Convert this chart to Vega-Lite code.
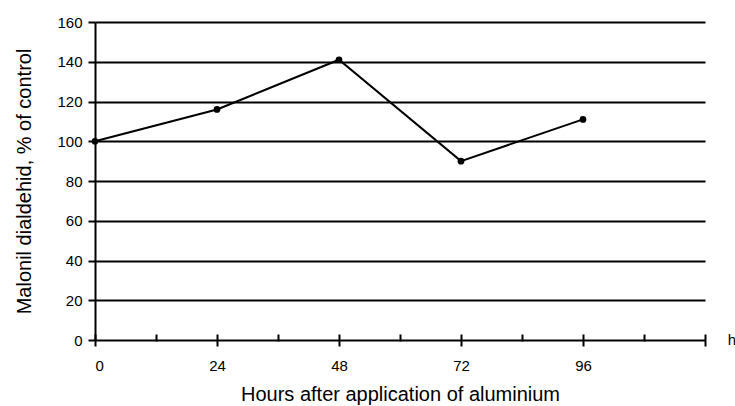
{
  "$schema": "https://vega.github.io/schema/vega-lite/v6.json",
  "autosize": {"type": "none"},
  "padding": {"left": 95, "top": 22, "right": 30, "bottom": 66},
  "width": 610,
  "height": 318,
  "background": "white",
  "config": {
    "view": {"stroke": null},
    "font": "Liberation Sans",
    "axis": {"labelColor": "black", "titleColor": "black", "titleFontWeight": "normal", "labelOverlap": false, "titleFontSize": 20, "labelFontSize": 15}
  },
  "data": {"values": [
    {"hours": 0, "mda": 100},
    {"hours": 24, "mda": 116},
    {"hours": 48, "mda": 141},
    {"hours": 72, "mda": 90},
    {"hours": 96, "mda": 111}
  ]},
  "encoding": {
    "x": {"field": "hours", "type": "quantitative",
      "scale": {"domain": [0, 120], "nice": false, "zero": true},
      "axis": {
        "title": "Hours after application of aluminium",
        "titlePadding": 11,
        "values": [0, 12, 24, 36, 48, 60, 72, 84, 96, 108, 120],
        "labelExpr": "datum.value % 24 === 0 && datum.value < 120 ? datum.label : ''",
        "labelPadding": 12,
        "domain": false, "grid": false, "offset": -6,
        "tickColor": "black", "tickWidth": 2,
        "tickSize": {"condition": {"test": "datum.value % 24 === 0 || datum.value === 120", "value": 12}, "value": 7}
      }
    },
    "y": {"field": "mda", "type": "quantitative",
      "scale": {"domain": [0, 160], "nice": false},
      "axis": {
        "title": "Malonil dialdehid, % of control",
        "titlePadding": 22,
        "values": [0, 20, 40, 60, 80, 100, 120, 140, 160],
        "labelPadding": 6,
        "domain": true, "domainColor": "black", "domainWidth": 2,
        "tickColor": "black", "tickWidth": 2, "tickSize": 7,
        "grid": true, "gridColor": "black", "gridWidth": 2, "gridOpacity": 1
      }
    }
  },
  "layer": [
    {
      "mark": {"type": "line", "color": "black", "strokeWidth": 2}
    },
    {
      "mark": {"type": "point", "filled": true, "color": "black", "size": 45, "opacity": 1}
    },
    {
      "data": {"values": [{"hours": 120, "mda": 0, "unit": "h"}]},
      "mark": {"type": "text", "dx": 27, "align": "center", "baseline": "middle", "fontSize": 15, "color": "black"},
      "encoding": {
        "text": {"field": "unit"}
      }
    }
  ]
}
